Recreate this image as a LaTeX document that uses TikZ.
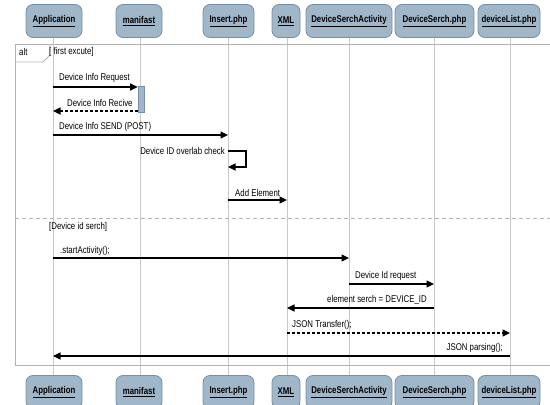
\documentclass[tikz,border=0pt]{standalone}
\usepackage{fontspec}
\usetikzlibrary{arrows.meta}
\newfontfamily\labfont{Liberation Sans}[FakeStretch=0.8]
\definecolor{boxfill}{RGB}{160,182,201}
\definecolor{boxline}{RGB}{118,142,166}
\definecolor{lifegray}{RGB}{200,200,200}
\definecolor{framegray}{RGB}{178,178,178}
\tikzset{
  actor/.style={draw=boxline, fill=boxfill, rounded corners=7pt, line width=0.8pt,
    minimum height=33pt, inner sep=0pt, font=\labfont\fontsize{9.8}{11}\selectfont\bfseries},
  lifeline/.style={draw=lifegray, line width=0.8pt},
  msg/.style={draw=black, line width=1.2pt, -{Triangle[length=7.5pt,width=7pt]}},
  retmsg/.style={msg, dash pattern=on 3pt off 2pt},
  lbl/.style={font=\labfont\fontsize{9.8}{11}\selectfont, inner sep=0pt},
  framel/.style={draw=framegray, line width=0.8pt},
  actbar/.style={draw=boxline, fill=boxfill, line width=0.6pt, minimum width=6pt, inner sep=0pt}
}
\begin{document}
\begin{tikzpicture}[x=1pt,y=-1pt]
\useasboundingbox (0,0) rectangle (550,405);
\begin{scope}
\clip (0,0) rectangle (550,405);
% actors top
\node[actor, minimum width=56pt] (app) at (54,21) {\underline{Application}};
\node[actor, minimum width=46pt] (man) at (139,21) {\underline{manifast}};
\node[actor, minimum width=51pt] (ins) at (228.5,21) {\underline{Insert.php}};
\node[actor, minimum width=28pt] (xml) at (286,21) {\underline{XML}};
\node[actor, minimum width=86pt] (dsa) at (349,21) {\underline{DeviceSerchActivity}};
\node[actor, minimum width=79pt] (dsp) at (434.5,21) {\underline{DeviceSerch.php}};
\node[actor, minimum width=62pt] (dlp) at (509,21) {\underline{deviceList.php}};
% actors bottom
\node[actor, minimum width=56pt] (appB) at (54,392) {\underline{Application}};
\node[actor, minimum width=46pt] (manB) at (139,392) {\underline{manifast}};
\node[actor, minimum width=51pt] (insB) at (228.5,392) {\underline{Insert.php}};
\node[actor, minimum width=28pt] (xmlB) at (286,392) {\underline{XML}};
\node[actor, minimum width=86pt] (dsaB) at (349,392) {\underline{DeviceSerchActivity}};
\node[actor, minimum width=79pt] (dspB) at (434.5,392) {\underline{DeviceSerch.php}};
\node[actor, minimum width=62pt] (dlpB) at (509,392) {\underline{deviceList.php}};
\end{scope}

% lifelines
\coordinate (La) at (53,0);
\coordinate (Lm) at (140,0);
\coordinate (Li) at (228,0);
\coordinate (Lx) at (287,0);
\coordinate (Ls) at (349,0);
\coordinate (Lp) at (434,0);
\coordinate (Ld) at (510,0);
\draw[lifeline] (La |- app.south) -- (La |- appB.north);
\draw[lifeline] (Lm |- man.south) -- (Lm |- manB.north);
\draw[lifeline] (Li |- ins.south) -- (Li |- insB.north);
\draw[lifeline] (Lx |- xml.south) -- (Lx |- xmlB.north);
\draw[lifeline] (Ls |- dsa.south) -- (Ls |- dsaB.north);
\draw[lifeline] (Lp |- dsp.south) -- (Lp |- dspB.north);
\draw[lifeline] (Ld |- dlp.south) -- (Ld |- dlpB.north);

% frame
\draw[framel] (550,44) -- (15,44) -- (15,365) -- (550,365);
\draw[framel] (15,62) -- (43,62) -- (50,55) -- (50,44);
\draw[framel, dash pattern=on 4pt off 3pt] (15,218) -- (550,218);
\node[lbl, anchor=west] (altlbl) at (19,52) {alt};
\node[lbl, anchor=west] (g1) at (49,52) {[ first excute]};
\node[lbl, anchor=west] (g2) at (49,227) {[Device id serch]};

% activation bar
\node[actbar, minimum height=26pt, anchor=north] (bar) at (141,86) {};

% y levels
\coordinate (y1) at (0,87);
\coordinate (y2) at (0,111);
\coordinate (y3) at (0,135);
\coordinate (y4a) at (0,151);
\coordinate (y4b) at (0,167);
\coordinate (y5) at (0,200);
\coordinate (y6) at (0,258);
\coordinate (y7) at (0,284);
\coordinate (y8) at (0,308);
\coordinate (y9) at (0,333);
\coordinate (y10) at (0,356);
\coordinate (loopx) at (246,0);

\draw[msg] (La |- y1) -- (bar.west |- y1);
\node[lbl, anchor=west] (t1) at (59,78) {Device Info Request};
\draw[retmsg] (bar.west |- y2) -- (La |- y2);
\node[lbl, anchor=west] (t2) at (67,103) {Device Info Recive};
\draw[msg] (La |- y3) -- (Li |- y3);
\node[lbl, anchor=west] (t3) at (59,127) {Device Info SEND (POST)};
\draw[msg] (Li |- y4a) -- (loopx |- y4a) -- (loopx |- y4b) -- (Li |- y4b);
\node[lbl, anchor=east] (t4) at (225,151) {Device ID overlab check};
\draw[msg] (Li |- y5) -- (Lx |- y5);
\node[lbl, anchor=west] (t5) at (235,193) {Add Element};
\draw[msg] (La |- y6) -- (Ls |- y6);
\node[lbl, anchor=west] (t6) at (60,251) {.startActivity();};
\draw[msg] (Ls |- y7) -- (Lp |- y7);
\node[lbl, anchor=west] (t7) at (355,276) {Device Id request};
\draw[msg] (Lp |- y8) -- (Lx |- y8);
\node[lbl, anchor=east] (t8) at (427,300) {element serch = DEVICE\_ID};
\draw[retmsg] (Lx |- y9) -- (Ld |- y9);
\node[lbl, anchor=west] (t9) at (292,325) {JSON Transfer();};
\draw[msg] (Ld |- y10) -- (La |- y10);
\node[lbl, anchor=east] (t10) at (503,348) {JSON parsing();};
\end{tikzpicture}
\end{document}
